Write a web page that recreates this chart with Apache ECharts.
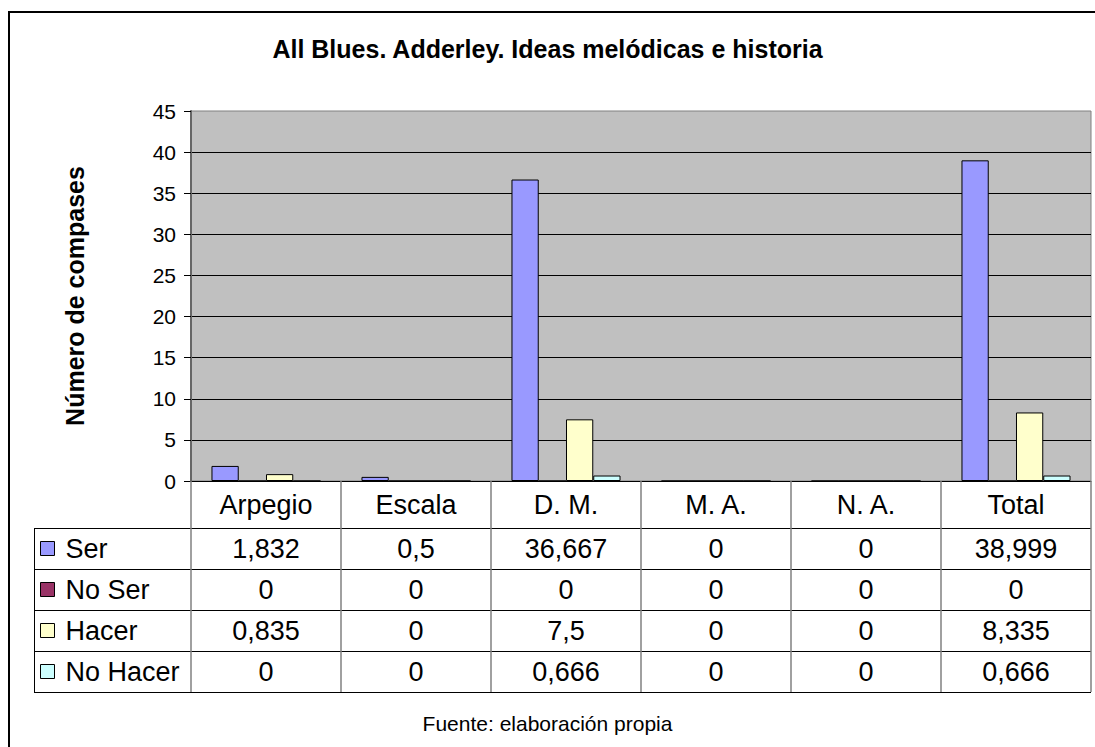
<!DOCTYPE html>
<html>
<head>
<meta charset="utf-8">
<title>All Blues. Adderley</title>
<script src="https://cdn.jsdelivr.net/npm/echarts@6/dist/echarts.min.js"></script>
<style>
  html, body { margin: 0; padding: 0; background: #fff; }
  #chart { width: 1095px; height: 747px; }
</style>
</head>
<body>
<div id="chart"></div>
<script>
// data
const categories = ["Arpegio", "Escala", "D. M.", "M. A.", "N. A.", "Total"];
const seriesNames = ["Ser", "No Ser", "Hacer", "No Hacer"];
const ser = [1.832, 0.5, 36.667, 0, 0, 38.999];
const noSer = [0, 0, 0, 0, 0, 0];
const hacer = [0.835, 0, 7.5, 0, 0, 8.335];
const noHacer = [0, 0, 0.666, 0, 0, 0.666];
const yTicks = { min: 0, max: 45, interval: 5 };

const seriesData = [ser, noSer, hacer, noHacer];
const colors = ["#9999FF", "#993366", "#FFFFCC", "#CCFFFF"];

// layout (px)
const W = 1095, H = 747;
const gridL = 191, gridR = 1091, gridT = 111, zeroY = 481;
const headH = 47, rowH = 41, tableL = 34;
const tableB = zeroY + headH + rowH * seriesNames.length;
const font = "Arial, 'Liberation Sans', sans-serif";
const cellFont = 27;

const fmt = v => String(v).replace(".", ",");

const chart = echarts.init(document.getElementById("chart"), null, { renderer: "svg" });

// one extra x axis per table row, used only for its labels
const rowAxes = seriesData.map((d, k) => ({
  type: "category",
  data: categories,
  position: "bottom",
  offset: headH + rowH * k,
  axisLine: { show: false },
  axisTick: { show: false },
  splitLine: { show: false },
  axisLabel: {
    interval: 0,
    margin: rowH / 2,
    verticalAlign: "middle",
    fontFamily: font,
    fontSize: cellFont,
    color: "#000",
    formatter: (v, i) => fmt(d[i])
  }
}));

const hLines = [];
for (let k = 0; k <= seriesNames.length; k++) {
  const y = zeroY + headH + rowH * k + 0.5;
  hLines.push({
    type: "line",
    shape: { x1: tableL, y1: y, x2: gridR, y2: y },
    style: { stroke: "#000", lineWidth: 1 }
  });
}

const option = {
  backgroundColor: "#fff",
  animation: false,
  title: [
    {
      text: "All Blues. Adderley. Ideas melódicas e historia",
      left: "center",
      top: 31,
      textStyle: { fontFamily: font, fontSize: 25, fontWeight: "bold", color: "#000" }
    },
    {
      text: "Fuente: elaboración propia",
      left: "center",
      top: 708,
      textStyle: { fontFamily: font, fontSize: 21, fontWeight: "normal", color: "#000" }
    }
  ],
  legend: {
    orient: "vertical",
    left: tableL + 6,
    top: zeroY + headH + (rowH - cellFont) / 2,
    padding: 0,
    itemGap: rowH - cellFont,
    itemWidth: 14,
    itemHeight: 14,
    icon: "rect",
    selectedMode: false,
    data: seriesNames,
    itemStyle: { borderColor: "#000", borderWidth: 1 },
    textStyle: {
      fontFamily: font,
      fontSize: cellFont,
      color: "#000",
      padding: [0, 0, 0, 6]
    }
  },
  grid: {
    left: gridL,
    top: gridT,
    right: W - gridR,
    bottom: H - zeroY,
    show: true,
    backgroundColor: "#C0C0C0",
    borderColor: "#808080",
    borderWidth: 1
  },
  xAxis: [
    {
      type: "category",
      data: categories,
      position: "bottom",
      axisLine: { show: true, lineStyle: { color: "#000", width: 1 } },
      axisTick: {
        show: true,
        inside: false,
        length: tableB - zeroY,
        lineStyle: { color: "#808080", width: 1.5 }
      },
      axisLabel: {
        interval: 0,
        margin: headH / 2,
        verticalAlign: "middle",
        fontFamily: font,
        fontSize: cellFont,
        color: "#000"
      }
    }
  ].concat(rowAxes),
  yAxis: {
    type: "value",
    min: yTicks.min,
    max: yTicks.max,
    interval: yTicks.interval,
    name: "Número de compases",
    nameLocation: "middle",
    nameRotate: 90,
    nameGap: 104,
    nameTextStyle: { fontFamily: font, fontSize: 25, fontWeight: "bold", color: "#000" },
    axisLine: { show: true, lineStyle: { color: "#666", width: 2 } },
    axisTick: { show: true, inside: false, length: 7, lineStyle: { color: "#000" } },
    axisLabel: { fontFamily: font, fontSize: 21, color: "#000", margin: 15 },
    splitLine: { show: true, showMaxLine: false, lineStyle: { color: "#000", width: 1 } }
  },
  series: seriesNames.map((name, i) => ({
    name: name,
    type: "bar",
    data: seriesData[i],
    barGap: "0%",
    barCategoryGap: "27.3%",
    itemStyle: { color: colors[i], borderColor: "#000", borderWidth: 1 }
  })),
  graphic: [
    {
      type: "rect",
      shape: { x: 9, y: 12, width: W + 20, height: H + 20 },
      style: { fill: null, stroke: "#000", lineWidth: 2 },
      silent: true
    },
    {
      type: "line",
      shape: { x1: tableL + 0.5, y1: zeroY + headH, x2: tableL + 0.5, y2: tableB },
      style: { stroke: "#000", lineWidth: 1 }
    }
  ].concat(hLines)
};

chart.setOption(option);
</script>
</body>
</html>
